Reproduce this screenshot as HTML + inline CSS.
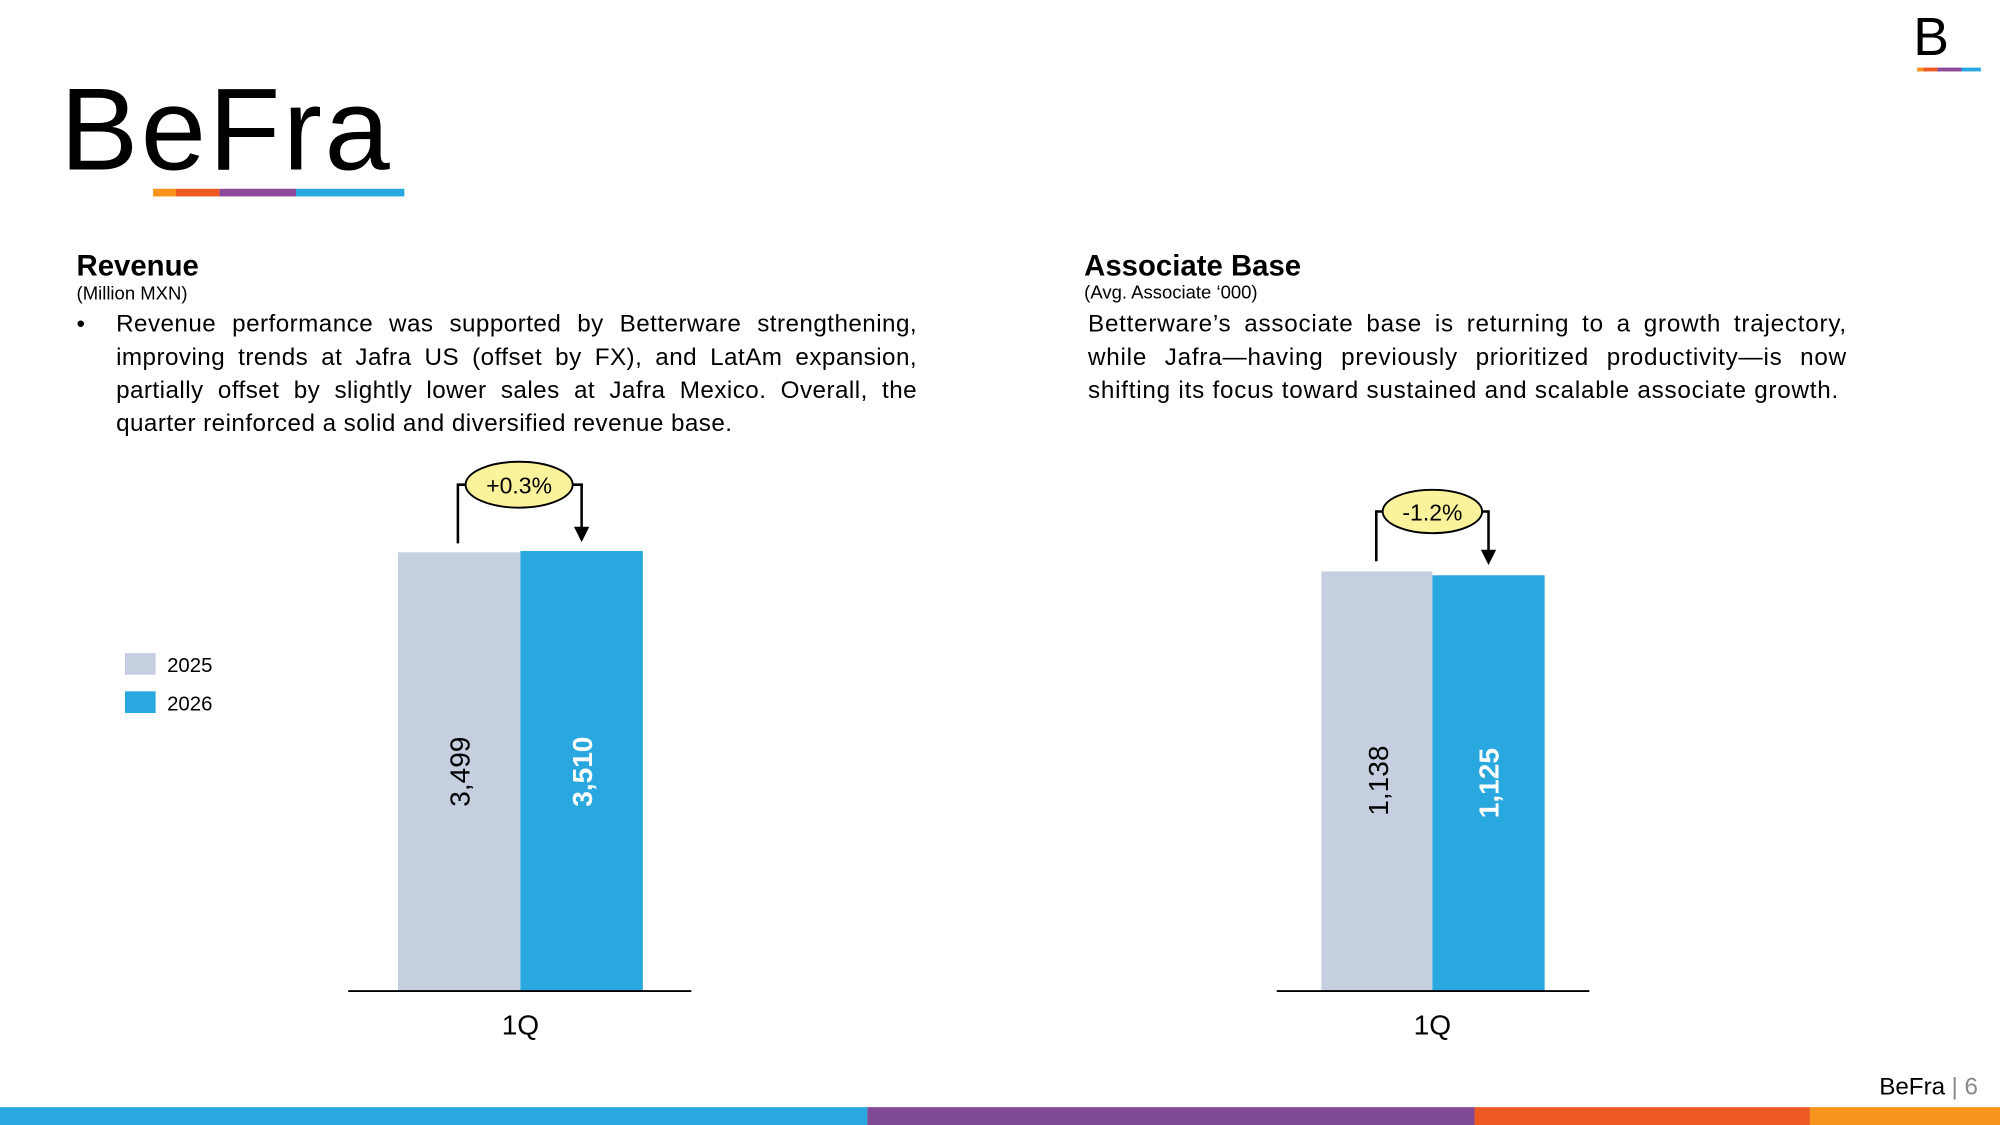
<!DOCTYPE html>
<html><head><meta charset="utf-8"><style>
html,body{margin:0;padding:0;background:#fff;overflow:hidden}
#w{width:1568px;height:882px;transform:scale(1.27551);transform-origin:0 0;position:relative;font-family:"Liberation Sans",sans-serif;color:#000}
.a{position:absolute}
.p{font-size:19px;line-height:26px;text-align:justify;letter-spacing:0.35px}
</style></head><body><div id="w">
<div class="a" style="left:47px;top:47px;font-size:92px;line-height:110px;letter-spacing:2px">BeFra</div>
<div class="a" style="left:120px;top:148px;height:6px;width:197px;background:linear-gradient(90deg,#f7941d 0 18px,#ee5a24 18px 52px,#8b4a9c 52px 112px,#29a8e0 112px)"></div>
<div class="a" style="left:1500px;top:4px;font-size:42px;line-height:50px">B</div>
<div class="a" style="left:1503px;top:53px;height:3px;width:50px;background:linear-gradient(90deg,#f7941d 0 5px,#ee5a24 5px 16px,#8b4a9c 16px 35px,#29a8e0 35px)"></div>

<div class="a" style="left:60px;top:195px;font-size:23px;font-weight:bold">Revenue</div>
<div class="a" style="left:60px;top:223px;font-size:14.5px">(Million MXN)</div>
<div class="a" style="left:60px;top:242px;font-size:19px;line-height:26px">•</div>
<div class="a p" style="left:91px;top:242px;width:628px">Revenue performance was supported by Betterware strengthening, improving trends at Jafra US (offset by FX), and LatAm expansion, partially offset by slightly lower sales at Jafra Mexico. Overall, the quarter reinforced a solid and diversified revenue base.</div>

<div class="a" style="left:850px;top:195px;font-size:23px;font-weight:bold">Associate Base</div>
<div class="a" style="left:850px;top:222px;font-size:14.5px">(Avg. Associate ‘000)</div>
<div class="a p" style="left:853px;top:242px;width:595px;letter-spacing:0.6px">Betterware’s associate base is returning to a growth trajectory, while Jafra—having previously prioritized productivity—is now shifting its focus toward sustained and scalable associate growth.</div>

<svg class="a" style="left:0;top:0" width="1568" height="882" font-family="Liberation Sans, sans-serif">
<rect x="98" y="512" width="24" height="17" fill="#c5cfe0"/>
<text x="131" y="527" font-size="16">2025</text>
<rect x="98" y="542" width="24" height="17" fill="#29a8e0"/>
<text x="131" y="557" font-size="16">2026</text>

<rect x="312" y="433" width="96" height="344" fill="#c5cfe0"/>
<rect x="408" y="432" width="96" height="345" fill="#29a8e0"/>
<line x1="273" y1="777" x2="542" y2="777" stroke="#000" stroke-width="1.5"/>
<text x="408" y="811" font-size="22" text-anchor="middle">1Q</text>
<text transform="translate(368,605) rotate(-90)" font-size="22" text-anchor="middle">3,499</text>
<text transform="translate(464,605) rotate(-90)" font-size="22" font-weight="bold" fill="#fff" text-anchor="middle">3,510</text>
<path d="M359 426V380H370M444 380H456V416" fill="none" stroke="#000" stroke-width="2"/>
<path d="M450 413L462 413L456 425Z" fill="#000"/>
<ellipse cx="407" cy="380" rx="42" ry="18" fill="#fbf39b" stroke="#000" stroke-width="1.5"/>
<text x="407" y="387" font-size="18" text-anchor="middle">+0.3%</text>

<rect x="1036" y="448" width="87" height="329" fill="#c5cfe0"/>
<rect x="1123" y="451" width="88" height="326" fill="#29a8e0"/>
<line x1="1001" y1="777" x2="1246" y2="777" stroke="#000" stroke-width="1.5"/>
<text x="1123" y="811" font-size="22" text-anchor="middle">1Q</text>
<text transform="translate(1088,612) rotate(-90)" font-size="22" text-anchor="middle">1,138</text>
<text transform="translate(1175,614) rotate(-90)" font-size="22" font-weight="bold" fill="#fff" text-anchor="middle">1,125</text>
<path d="M1079 440V401H1088M1158 401H1167V433" fill="none" stroke="#000" stroke-width="2"/>
<path d="M1161 431L1173 431L1167 443Z" fill="#000"/>
<ellipse cx="1123" cy="401" rx="39" ry="17" fill="#fbf39b" stroke="#000" stroke-width="1.5"/>
<text x="1123" y="408" font-size="18" text-anchor="middle">-1.2%</text>

<text x="1525" y="858" font-size="19" text-anchor="end">BeFra</text>
<text x="1530" y="858" font-size="19" fill="#888">| 6</text>
<rect x="0" y="868" width="680" height="14" fill="#29a8e0"/>
<rect x="680" y="868" width="476" height="14" fill="#7f4996"/>
<rect x="1156" y="868" width="263" height="14" fill="#ee5a24"/>
<rect x="1419" y="868" width="149" height="14" fill="#f7941d"/>
</svg>
</div></body></html>
